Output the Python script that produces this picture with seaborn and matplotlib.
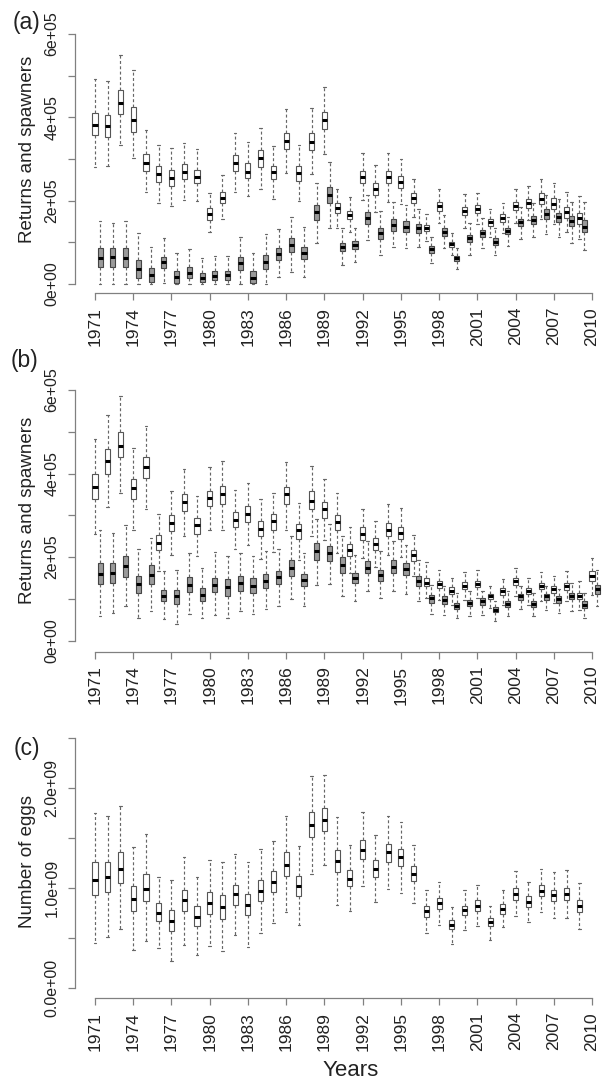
import numpy as np
import pandas as pd
import matplotlib
matplotlib.use("Agg")
import matplotlib.pyplot as plt
import seaborn as sns

# each row: lower whisker, q1, median, q3, upper whisker
years_a = list(range(1971, 2010))
years_b = list(range(1971, 2011))
years_c = list(range(1971, 2010))

# panel (a), units of 1e5 fish
returns_a = [
    (2.82, 3.58, 3.82, 4.10, 4.91), (2.84, 3.54, 3.79, 4.06, 4.87), (3.34, 4.07, 4.34, 4.66, 5.50),
    (3.02, 3.66, 3.94, 4.24, 5.14), (2.22, 2.72, 2.91, 3.11, 3.70), (1.95, 2.44, 2.63, 2.83, 3.34),
    (1.88, 2.35, 2.54, 2.74, 3.27), (2.02, 2.52, 2.70, 2.88, 3.38), (2.00, 2.42, 2.58, 2.74, 3.23),
    (1.24, 1.54, 1.67, 1.82, 2.18), (1.56, 1.94, 2.07, 2.22, 2.62), (2.22, 2.72, 2.91, 3.10, 3.62),
    (2.11, 2.54, 2.70, 2.91, 3.42), (2.27, 2.82, 3.02, 3.22, 3.75), (2.04, 2.51, 2.68, 2.84, 3.31),
    (2.67, 3.24, 3.43, 3.63, 4.19), (1.99, 2.47, 2.66, 2.84, 3.34), (2.64, 3.22, 3.42, 3.62, 4.22),
    (3.11, 3.71, 3.94, 4.14, 4.74), (1.34, 1.70, 1.82, 1.95, 2.27), (1.26, 1.56, 1.66, 1.76, 2.08),
    (2.02, 2.43, 2.58, 2.72, 3.14), (1.74, 2.14, 2.28, 2.43, 2.86), (1.98, 2.42, 2.58, 2.72, 3.14),
    (1.92, 2.31, 2.46, 2.59, 2.99), (1.60, 1.94, 2.06, 2.19, 2.51), (1.04, 1.28, 1.35, 1.42, 1.68),
    (1.47, 1.76, 1.87, 1.98, 2.27), (0.70, 0.90, 0.96, 1.02, 1.22), (1.35, 1.66, 1.76, 1.86, 2.15),
    (1.44, 1.71, 1.80, 1.90, 2.19), (1.14, 1.40, 1.48, 1.56, 1.79), (1.23, 1.50, 1.58, 1.67, 1.94),
    (1.47, 1.78, 1.87, 1.98, 2.27), (1.54, 1.83, 1.94, 2.03, 2.35), (1.55, 1.92, 2.04, 2.19, 2.51),
    (1.44, 1.79, 1.92, 2.06, 2.42), (1.24, 1.59, 1.72, 1.86, 2.22), (1.07, 1.44, 1.58, 1.71, 2.12),
]
spawners_a = [
    (0.00, 0.40, 0.62, 0.86, 1.52), (0.00, 0.42, 0.64, 0.86, 1.47), (0.00, 0.42, 0.63, 0.86, 1.52),
    (0.00, 0.14, 0.35, 0.58, 1.23), (0.00, 0.06, 0.22, 0.39, 0.88), (0.03, 0.38, 0.52, 0.66, 1.10),
    (0.00, 0.02, 0.16, 0.31, 0.75), (0.00, 0.14, 0.27, 0.42, 0.83), (0.00, 0.05, 0.15, 0.27, 0.63),
    (0.00, 0.10, 0.20, 0.32, 0.67), (0.00, 0.10, 0.21, 0.32, 0.67), (0.00, 0.34, 0.50, 0.66, 1.12),
    (0.00, 0.02, 0.15, 0.32, 0.75), (0.00, 0.35, 0.52, 0.70, 1.19), (0.16, 0.58, 0.72, 0.87, 1.31),
    (0.30, 0.76, 0.94, 1.11, 1.62), (0.16, 0.59, 0.74, 0.90, 1.38), (0.98, 1.54, 1.72, 1.90, 2.43),
    (1.34, 1.94, 2.14, 2.34, 2.94), (0.46, 0.80, 0.90, 0.99, 1.35), (0.54, 0.83, 0.94, 1.04, 1.34),
    (1.06, 1.44, 1.58, 1.74, 2.14), (0.70, 1.08, 1.22, 1.35, 1.76), (0.88, 1.28, 1.42, 1.56, 1.98),
    (0.86, 1.24, 1.38, 1.52, 1.90), (0.90, 1.23, 1.34, 1.44, 1.79), (0.51, 0.75, 0.83, 0.91, 1.14),
    (0.86, 1.16, 1.26, 1.34, 1.66), (0.35, 0.55, 0.62, 0.67, 0.86), (0.70, 1.00, 1.10, 1.18, 1.47),
    (0.86, 1.12, 1.22, 1.30, 1.58), (0.70, 0.94, 1.02, 1.10, 1.34), (0.91, 1.19, 1.27, 1.35, 1.62),
    (1.07, 1.39, 1.48, 1.56, 1.86), (1.12, 1.44, 1.54, 1.63, 1.94), (1.20, 1.55, 1.67, 1.79, 2.14),
    (1.12, 1.48, 1.60, 1.71, 2.03), (0.99, 1.40, 1.52, 1.63, 1.98), (0.82, 1.24, 1.38, 1.54, 1.98),
]

# panel (b), units of 1e5 fish
returns_b = [
    (2.55, 3.39, 3.67, 3.98, 4.83), (3.19, 4.00, 4.30, 4.59, 5.39), (3.54, 4.40, 4.67, 4.99, 5.86),
    (2.66, 3.39, 3.66, 3.87, 4.62), (3.14, 3.90, 4.15, 4.40, 5.15), (1.67, 2.18, 2.35, 2.54, 3.03),
    (2.06, 2.62, 2.82, 3.02, 3.58), (2.51, 3.11, 3.32, 3.52, 4.12), (2.03, 2.55, 2.76, 2.94, 3.47),
    (2.64, 3.22, 3.42, 3.58, 4.15), (2.66, 3.28, 3.50, 3.70, 4.30), (2.19, 2.72, 2.90, 3.07, 3.60),
    (2.28, 2.84, 3.04, 3.23, 3.78), (1.96, 2.50, 2.67, 2.86, 3.40), (2.12, 2.66, 2.86, 3.04, 3.54),
    (2.64, 3.28, 3.50, 3.67, 4.27), (1.94, 2.44, 2.64, 2.80, 3.30), (2.51, 3.14, 3.35, 3.58, 4.18),
    (2.42, 2.94, 3.14, 3.32, 3.86), (2.11, 2.64, 2.83, 3.02, 3.54), (1.63, 2.03, 2.18, 2.32, 2.72),
    (1.98, 2.40, 2.56, 2.71, 3.15), (1.76, 2.16, 2.31, 2.46, 2.87), (2.06, 2.50, 2.66, 2.82, 3.27),
    (2.00, 2.43, 2.58, 2.72, 3.18), (1.55, 1.91, 2.04, 2.18, 2.54), (1.02, 1.31, 1.39, 1.50, 1.88),
    (0.98, 1.26, 1.35, 1.44, 1.70), (0.86, 1.12, 1.20, 1.28, 1.50), (0.98, 1.24, 1.32, 1.40, 1.64),
    (1.02, 1.28, 1.36, 1.44, 1.70), (0.78, 0.99, 1.06, 1.11, 1.30), (0.86, 1.10, 1.18, 1.26, 1.48),
    (1.06, 1.34, 1.42, 1.51, 1.75), (0.86, 1.11, 1.19, 1.26, 1.50), (0.96, 1.23, 1.31, 1.39, 1.64),
    (0.90, 1.15, 1.23, 1.31, 1.55), (0.94, 1.22, 1.30, 1.38, 1.68), (0.74, 0.99, 1.07, 1.15, 1.42),
    (1.10, 1.42, 1.54, 1.66, 1.99),
]
spawners_b = [
    (0.59, 1.35, 1.59, 1.86, 2.64), (0.67, 1.38, 1.62, 1.86, 2.58), (0.82, 1.52, 1.78, 2.03, 2.76),
    (0.54, 1.14, 1.35, 1.55, 2.19), (0.70, 1.35, 1.58, 1.80, 2.46), (0.51, 0.94, 1.07, 1.22, 1.66),
    (0.40, 0.87, 1.06, 1.22, 1.70), (0.63, 1.16, 1.34, 1.52, 2.10), (0.54, 0.96, 1.10, 1.26, 1.74),
    (0.62, 1.16, 1.34, 1.51, 2.12), (0.54, 1.08, 1.28, 1.47, 2.03), (0.72, 1.20, 1.38, 1.55, 2.10),
    (0.64, 1.14, 1.31, 1.50, 2.02), (0.75, 1.27, 1.43, 1.60, 2.14), (0.84, 1.35, 1.52, 1.68, 2.19),
    (1.00, 1.55, 1.74, 1.94, 2.51), (0.82, 1.30, 1.46, 1.60, 2.10), (1.34, 1.94, 2.14, 2.35, 2.92),
    (1.36, 1.90, 2.10, 2.26, 2.79), (1.07, 1.62, 1.80, 2.00, 2.51), (0.96, 1.38, 1.50, 1.62, 2.06),
    (1.18, 1.62, 1.75, 1.91, 2.38), (1.02, 1.44, 1.58, 1.70, 2.14), (1.18, 1.62, 1.76, 1.92, 2.38),
    (1.12, 1.58, 1.71, 1.86, 2.30), (0.94, 1.32, 1.44, 1.55, 1.92), (0.64, 0.91, 1.02, 1.10, 1.34),
    (0.62, 0.88, 0.98, 1.06, 1.30), (0.54, 0.76, 0.84, 0.91, 1.14), (0.59, 0.82, 0.90, 0.98, 1.18),
    (0.62, 0.86, 0.94, 1.02, 1.20), (0.48, 0.68, 0.74, 0.80, 0.94), (0.58, 0.80, 0.88, 0.96, 1.18),
    (0.75, 0.98, 1.06, 1.12, 1.30), (0.58, 0.80, 0.88, 0.96, 1.15), (0.74, 0.98, 1.06, 1.11, 1.30),
    (0.67, 0.91, 0.99, 1.06, 1.23), (0.72, 0.99, 1.06, 1.14, 1.39), (0.54, 0.78, 0.86, 0.94, 1.14),
    (0.82, 1.12, 1.23, 1.34, 1.70),
]

# panel (c), units of 1e9 eggs
eggs_c = [
    (0.45, 0.93, 1.08, 1.26, 1.75), (0.51, 0.96, 1.11, 1.26, 1.72), (0.59, 1.05, 1.19, 1.36, 1.82),
    (0.38, 0.77, 0.89, 1.02, 1.41), (0.47, 0.87, 0.99, 1.14, 1.54), (0.40, 0.67, 0.75, 0.85, 1.11),
    (0.27, 0.57, 0.67, 0.78, 1.08), (0.43, 0.77, 0.88, 0.98, 1.31), (0.33, 0.62, 0.71, 0.82, 1.11),
    (0.42, 0.74, 0.85, 0.96, 1.28), (0.37, 0.69, 0.81, 0.93, 1.26), (0.53, 0.83, 0.94, 1.03, 1.34),
    (0.41, 0.73, 0.83, 0.94, 1.26), (0.55, 0.87, 0.97, 1.08, 1.39), (0.65, 0.96, 1.06, 1.17, 1.47),
    (0.76, 1.12, 1.23, 1.36, 1.72), (0.63, 0.92, 1.02, 1.12, 1.42), (1.14, 1.51, 1.63, 1.76, 2.12),
    (1.23, 1.57, 1.68, 1.80, 2.13), (0.83, 1.16, 1.27, 1.38, 1.71), (0.77, 1.02, 1.09, 1.18, 1.43),
    (1.02, 1.29, 1.38, 1.48, 1.76), (0.86, 1.11, 1.19, 1.28, 1.53), (0.99, 1.26, 1.36, 1.44, 1.72),
    (0.95, 1.22, 1.31, 1.39, 1.66), (0.85, 1.07, 1.14, 1.22, 1.43), (0.55, 0.71, 0.77, 0.82, 0.98),
    (0.63, 0.79, 0.85, 0.90, 1.06), (0.44, 0.59, 0.63, 0.68, 0.81), (0.58, 0.73, 0.78, 0.82, 0.98),
    (0.62, 0.77, 0.82, 0.88, 1.03), (0.48, 0.62, 0.66, 0.70, 0.82), (0.61, 0.74, 0.79, 0.84, 0.98),
    (0.72, 0.88, 0.94, 1.00, 1.17), (0.66, 0.81, 0.86, 0.92, 1.06), (0.76, 0.92, 0.97, 1.03, 1.19),
    (0.70, 0.87, 0.93, 0.98, 1.16), (0.70, 0.88, 0.94, 1.00, 1.18), (0.59, 0.76, 0.82, 0.88, 1.05),
]

xtick_years = list(range(1971, 2011, 3))
ytick_ab = [0, 2e5, 4e5, 6e5]
ytick_ab_labels = ["0e+00", "2e+05", "4e+05", "6e+05"]
ytick_c = [0, 1e9, 2e9]
ytick_c_labels = ["0.0e+00", "1.0e+09", "2.0e+09"]

sns.set_style("white")
plt.rcParams["font.family"] = ["Liberation Sans", "DejaVu Sans"]

AXIS_GREY = "#808080"
TEXT = "#222222"
SPAWN_SHIFT = 0.4


def to_long(years, stats, scale):
    rows = []
    for yr, s in zip(years, stats):
        for v in s:
            rows.append({"year": yr, "value": v * scale})
    return pd.DataFrame(rows)


def draw_boxes(ax, df, shift, fill, edge):
    df = df.assign(pos=df["year"] + shift)
    sns.boxplot(data=df, x="pos", y="value", native_scale=True, orient="x",
                width=0.4, whis=(0, 100), showfliers=False, saturation=1,
                color=fill, linecolor=edge, linewidth=0.8,
                boxprops={"edgecolor": edge},
                medianprops={"color": "black", "linewidth": 2.2},
                whiskerprops={"color": "#666666", "linestyle": (0, (2.5, 2)), "linewidth": 0.85},
                capprops={"color": "#666666", "linewidth": 0.85},
                ax=ax)


def style_axis(ax, ylim, yticks, ylabels, yminor, ybound):
    ax.set_xlim(1969.43, 2010.86)
    ax.set_ylim(*ylim)
    for s in ["top", "right"]:
        ax.spines[s].set_visible(False)
    for s in ["left", "bottom"]:
        ax.spines[s].set_color(AXIS_GREY)
        ax.spines[s].set_linewidth(0.9)
    ax.spines["bottom"].set_bounds(1971, 2010)
    ax.spines["left"].set_bounds(*ybound)
    ax.set_xticks(xtick_years)
    ax.set_xticklabels([str(y) for y in xtick_years], rotation=90, fontsize=12.5, color=TEXT)
    ax.set_yticks(yticks)
    ax.set_yticklabels(ylabels, rotation=90, va="center", fontsize=11.5, color=TEXT)
    ax.set_yticks(yminor, minor=True)
    ax.tick_params(which="both", length=5, width=0.9, color=AXIS_GREY,
                   left=True, bottom=True)
    ax.tick_params(axis="x", pad=5)
    ax.tick_params(axis="y", pad=6)
    ax.set_xlabel("")
    ax.set_ylabel("")
    ax.grid(False)


W, H = 603, 1083
fig = plt.figure(figsize=(W / 100, H / 100), dpi=100)


def px_axes(top, bottom):
    return fig.add_axes([75 / W, (H - bottom) / H, 528 / W, (bottom - top) / H])


ax_a = px_axes(5, 293)
draw_boxes(ax_a, to_long(years_a, returns_a, 1e5), 0.0, "white", "#555555")
draw_boxes(ax_a, to_long(years_a, spawners_a, 1e5), SPAWN_SHIFT, "#9a9a9a", "#444444")
style_axis(ax_a, (-0.216e5, 6.696e5), ytick_ab, ytick_ab_labels, [1e5, 3e5, 5e5], (0, 6e5))

ax_b = px_axes(365, 651.7)
draw_boxes(ax_b, to_long(years_b, returns_b, 1e5), 0.0, "white", "#555555")
draw_boxes(ax_b, to_long(years_b, spawners_b, 1e5), SPAWN_SHIFT, "#9a9a9a", "#444444")
style_axis(ax_b, (-0.263e5, 6.598e5), ytick_ab, ytick_ab_labels, [1e5, 3e5, 5e5], (0, 6e5))

ax_c = px_axes(728, 998)
draw_boxes(ax_c, to_long(years_c, eggs_c, 1e9), 0.0, "white", "#555555")
style_axis(ax_c, (-0.1e9, 2.6e9), ytick_c, ytick_c_labels, [0.5e9, 1.5e9, 2.5e9], (0, 2.5e9))

# axis titles and panel letters
fig.text(28 / W, 1 - 149 / H, "Returns and spawners", rotation=90, ha="center", va="center",
         fontsize=13.5, color=TEXT)
fig.text(28 / W, 1 - 510 / H, "Returns and spawners", rotation=90, ha="center", va="center",
         fontsize=13.5, color=TEXT)
fig.text(28 / W, 1 - 862 / H, "Number of eggs", rotation=90, ha="center", va="center",
         fontsize=13.5, color=TEXT)
fig.text(351 / W, 1 - 1070 / H, "Years", ha="center", va="center", fontsize=16, color=TEXT)
for lab, (x, y) in zip(["(a)", "(b)", "(c)"], [(26, 22), (24, 361), (27, 748)]):
    fig.text(x / W, 1 - y / H, lab, ha="center", va="center", fontsize=16.5, color=TEXT)

fig.savefig("out.png", dpi=100)
